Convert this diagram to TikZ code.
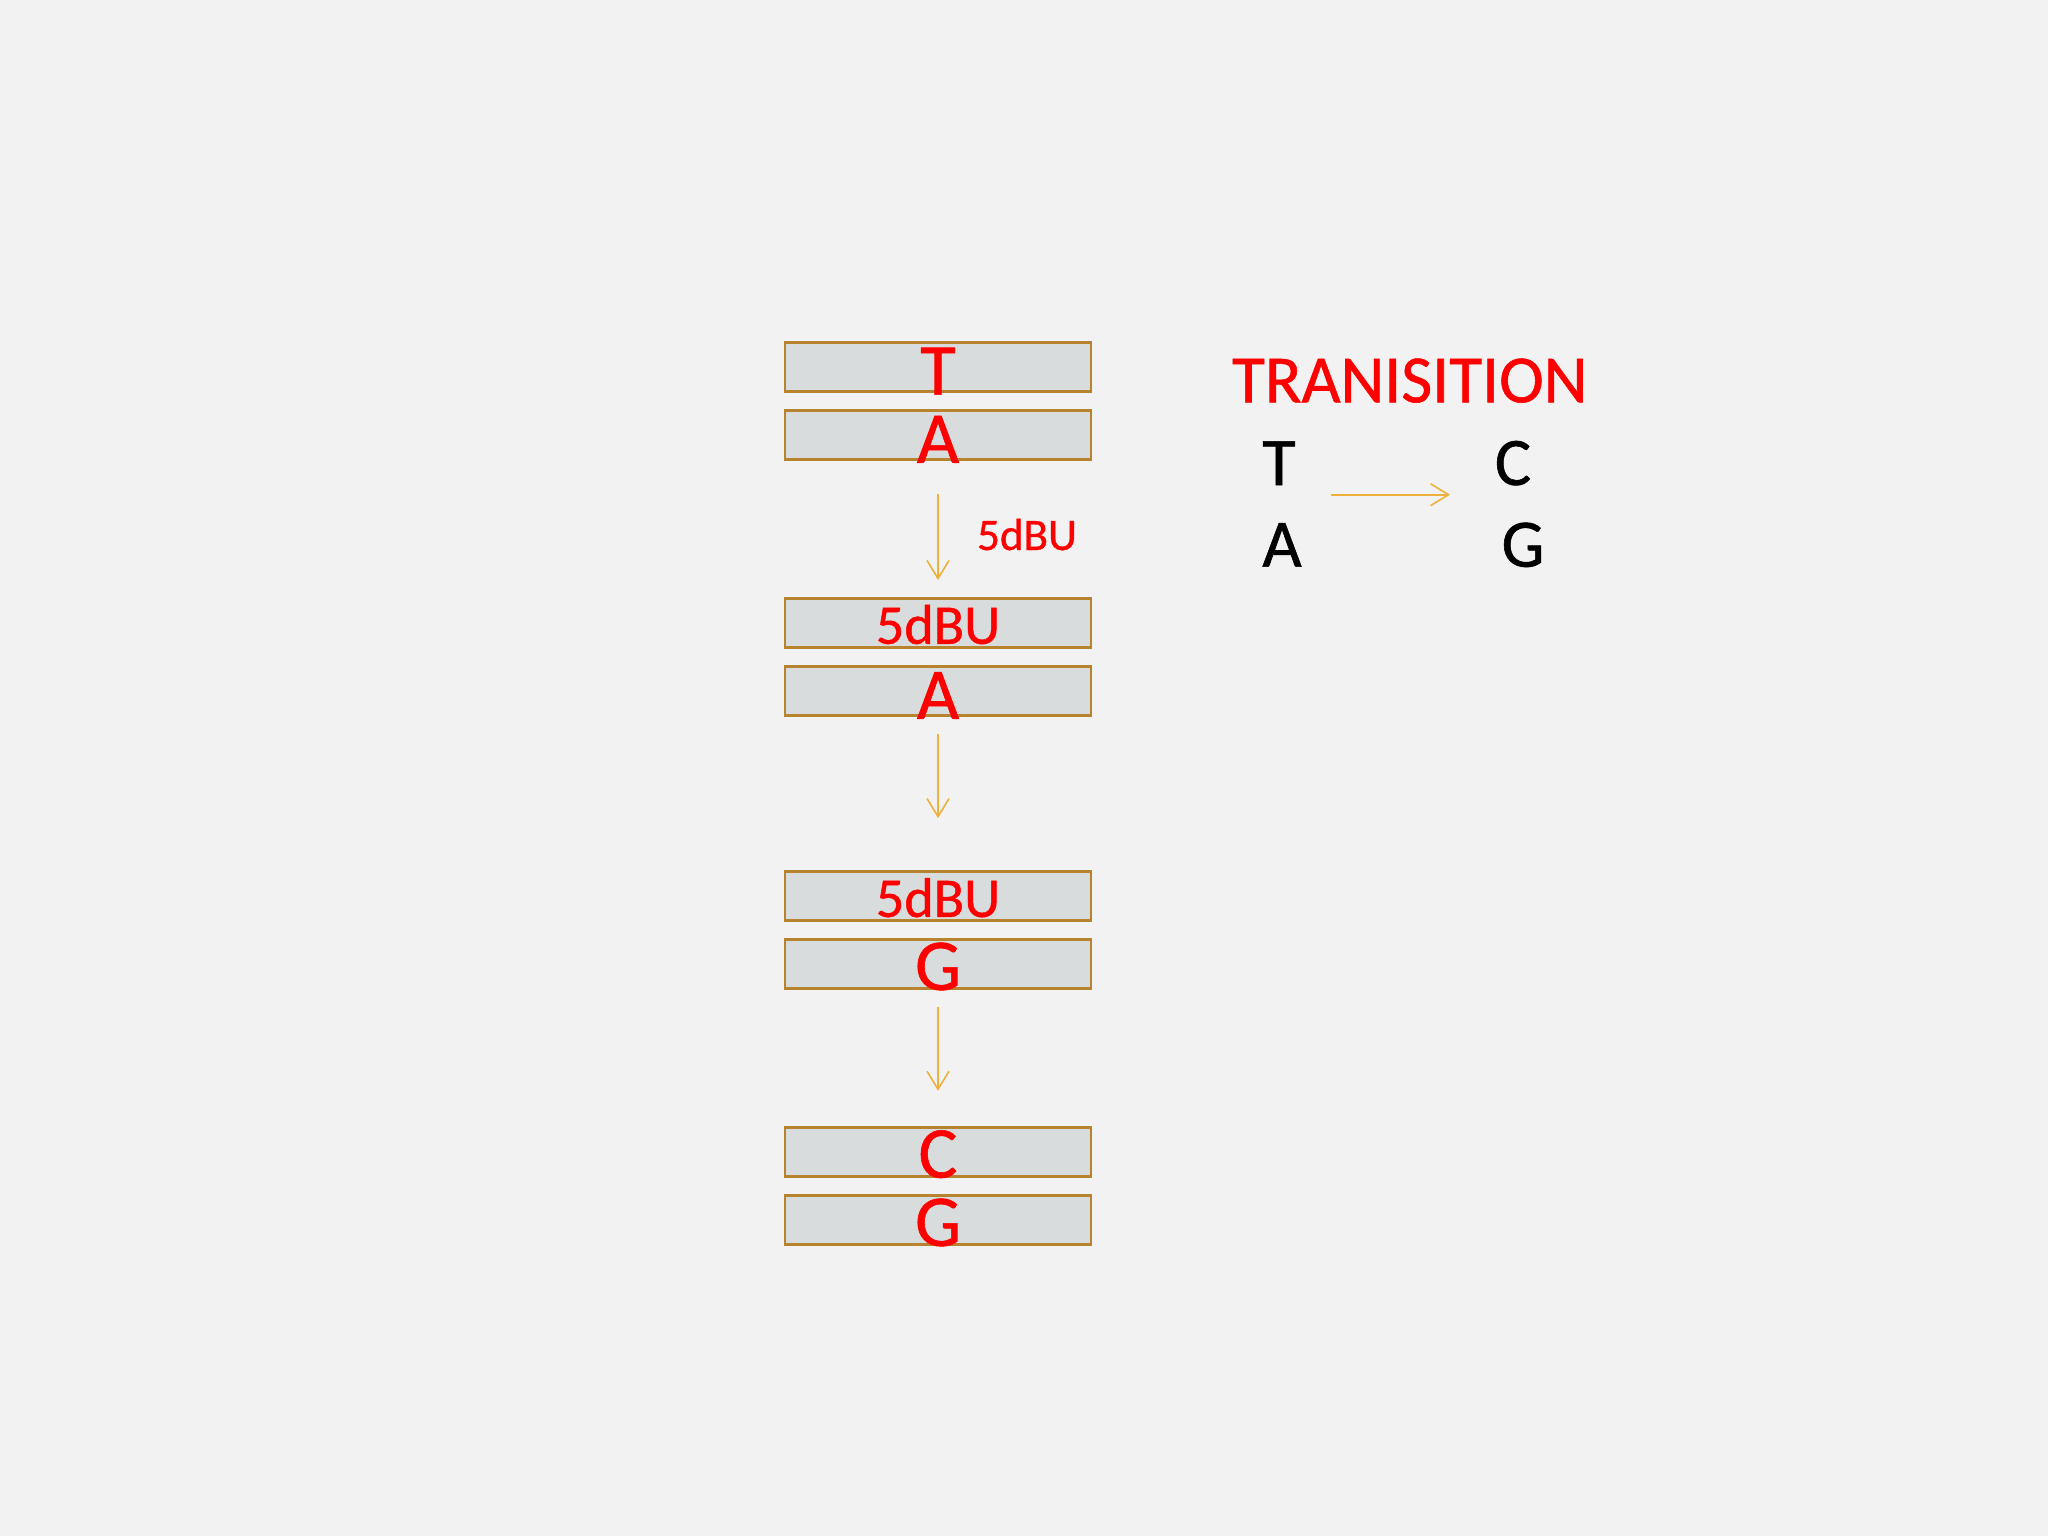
\documentclass[tikz,border=0pt]{standalone}
\usepackage{fontspec}
\setmainfont{Carlito}
\newfontfamily\heavy{Carlito}[FakeBold=0.8]
\usetikzlibrary{arrows.meta}
\definecolor{bg}{HTML}{F2F2F2}
\definecolor{boxfill}{HTML}{D9DCDC}
\definecolor{boxline}{HTML}{B7832E}
\definecolor{arr}{HTML}{F0B03C}
\definecolor{red}{HTML}{FF0000}
\tikzset{
  strand/.style={draw=boxline, fill=boxfill, line width=2.8pt, minimum width=306pt, minimum height=49pt, inner sep=0pt, rectangle},
  base1/.style={text=red, font=\heavy\fontsize{73}{73}\selectfont, anchor=base, inner sep=0pt},
  base2/.style={text=red, font=\heavy\fontsize{56}{56}\selectfont, anchor=base, inner sep=0pt},
  lbl/.style={text=red, font=\heavy\fontsize{45}{45}\selectfont, anchor=base, inner sep=0pt},
  title/.style={text=red, font=\heavy\fontsize{67.5}{67}\selectfont, anchor=base, inner sep=0pt},
  blk/.style={text=black, font=\heavy\fontsize{68}{68}\selectfont, anchor=base, inner sep=0pt},
  conn/.style={draw=arr, line width=1.6pt, -{Straight Barb[length=18pt, width=22pt, line width=1.6pt]}},
}
\begin{document}
\begin{tikzpicture}[x=1pt, y=-1pt]
\useasboundingbox[fill=bg] (0,0) rectangle (2048,1536);
% strands
\node[strand] (b1) at (938,366.7) {};
\node[strand] (b2) at (938,434.9) {};
\node[strand] (b3) at (938,622.9) {};
\node[strand] (b4) at (938,691) {};
\node[strand] (b5) at (938,896) {};
\node[strand] (b6) at (938,964) {};
\node[strand] (b7) at (938,1151.7) {};
\node[strand] (b8) at (938,1220) {};
% letters
\node[base1] (t1) at ([yshift=-2pt]b1.south) {T};
\node[base1] (t2) at ([yshift=-2pt]b2.south) {A};
\node[base2] (t3) at ([yshift=5pt]b3.south) {5dBU};
\node[base1] (t4) at ([yshift=-2pt]b4.south) {A};
\node[base2] (t5) at ([yshift=5pt]b5.south) {5dBU};
\node[base1] (t6) at ([yshift=0pt]b6.south) {G};
\node[base1] (t7) at ([yshift=0pt]b7.south) {C};
\node[base1] (t8) at ([yshift=0pt]b8.south) {G};
% arrows
\draw[conn, shorten <=33pt, shorten >=17pt] (b2.south) -- (b3.north);
\draw[conn, shorten <=17pt, shorten >=52pt] (b4.south) -- (b5.north);
\draw[conn, shorten <=17pt, shorten >=35pt] (b6.south) -- (b7.north);
\node[lbl] (l1) at (1027,550) {5dBU};
% right side
\node[title] (tt) at (1409.7,402.3) {TRANISITION};
\node[blk] (rT) at (1279,485) {T};
\node[blk] (rC) at (1513,485) {C};
\node[blk] (rA) at (1282,566.7) {A};
\node[blk] (rG) at (1523,566.7) {G};
\coordinate (ra) at (1331,494.7);
\coordinate (rb) at (1450,494.7);
\draw[conn] (ra) -- (rb);
\end{tikzpicture}
\end{document}
